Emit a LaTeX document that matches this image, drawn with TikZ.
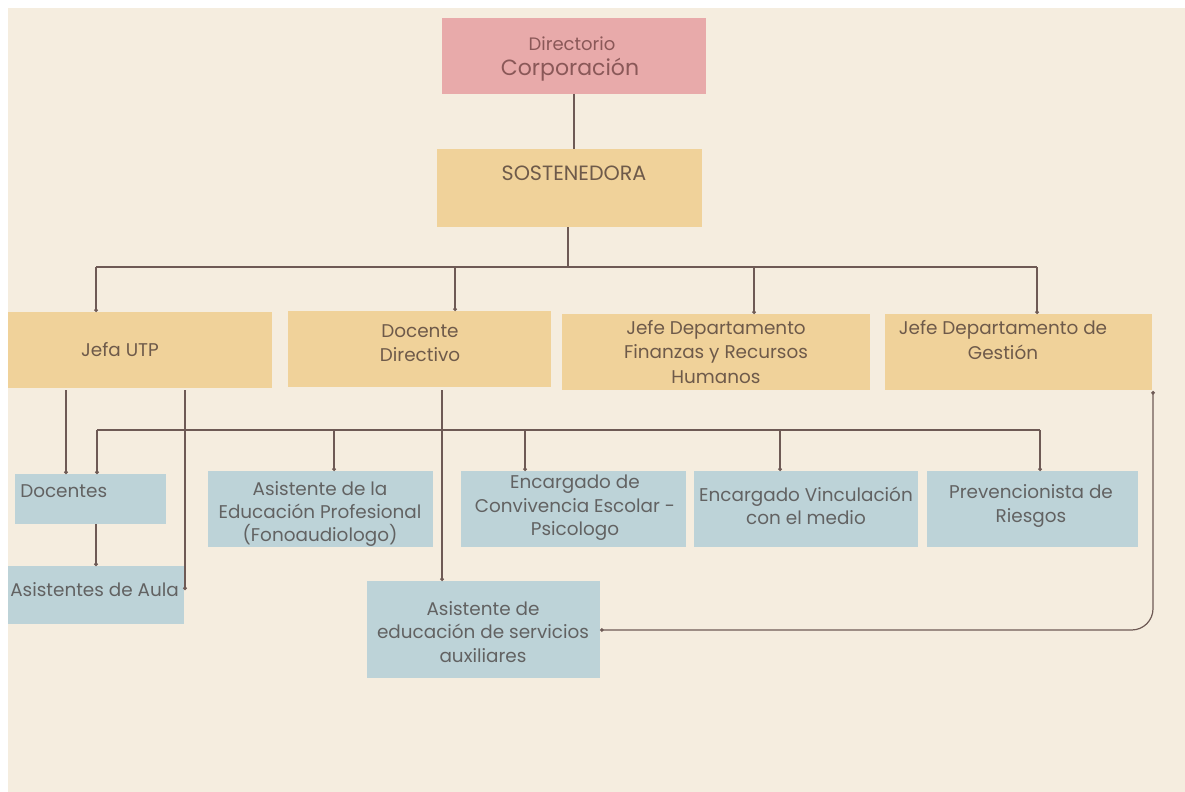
\documentclass[tikz,border=0pt]{standalone}
\usepackage{fontspec}
\setmainfont{Poppins}
\usetikzlibrary{arrows.meta}
\definecolor{bgc}{HTML}{F5EDDF}
\definecolor{pinkc}{HTML}{E8AAAA}
\definecolor{yelc}{HTML}{F0D29A}
\definecolor{bluec}{HTML}{BDD3D8}
\definecolor{linec}{HTML}{6E5A55}
\definecolor{ytext}{HTML}{6E5A4A}
\definecolor{btext}{HTML}{626262}
\definecolor{ptext}{HTML}{8A5858}
\newcommand\bx[6]{\node[#2, minimum width={(#5-#3)*0.75pt}, minimum height={(#6-#4)*0.75pt}] (#1) at ({(#3+#5)/2},{(#4+#6)/2}) {};}
\tikzset{
  boxbase/.style={inner sep=0pt, outer sep=0pt, draw=none},
  pinkbox/.style={boxbase, fill=pinkc},
  yelbox/.style={boxbase, fill=yelc},
  bluebox/.style={boxbase, fill=bluec},
  ytxt/.style={text=ytext, font=\fontsize{13.8}{18.4}\selectfont, align=center, inner sep=0pt},
  btxt/.style={text=btext, font=\fontsize{13.8}{17.6}\selectfont, align=center, inner sep=0pt},
  conn/.style={draw=linec, line width=0.9pt},
  dotend/.style={conn, -{Circle[length=2.8pt]}},
}
\begin{document}
\begin{tikzpicture}[x=0.75pt, y=-0.75pt]
\useasboundingbox (0,0) rectangle (1185,792);
\fill[white] (0,0) rectangle (1185,792);
\fill[bgc] (8,8) rectangle (1185,792);

% boxes
\bx{dir}{pinkbox}{442}{18}{706}{94}
\bx{sos}{yelbox}{437}{149}{702}{227}
\bx{jefa}{yelbox}{8}{312}{272}{388}
\bx{docd}{yelbox}{288}{311}{551}{387}
\bx{fin}{yelbox}{562}{314}{870}{390}
\bx{ges}{yelbox}{885}{314}{1152}{390}
\bx{doc}{bluebox}{15}{474}{166}{524}
\bx{aula}{bluebox}{8}{566}{184}{624}
\bx{aep}{bluebox}{208}{471}{433}{547}
\bx{conv}{bluebox}{461}{471}{686}{547}
\bx{vinc}{bluebox}{694}{471}{918}{547}
\bx{prev}{bluebox}{927}{471}{1138}{547}
\bx{serv}{bluebox}{367}{581}{600}{678}

% texts
\node[text=ptext, font=\fontsize{13.5}{15}\selectfont, inner sep=0pt] (dirT1) at (572,44) {Directorio};
\node[text=ptext, font=\fontsize{16.5}{18}\selectfont, inner sep=0pt] (dirT2) at (570,70) {Corporación};
\node[ytxt, font=\fontsize{15.5}{18}\selectfont] (sosT) at (574,173) {SOSTENEDORA};
\node[ytxt] (jefaT) at (120,350) {Jefa UTP};
\node[ytxt] (docdT) at (420,343) {Docente\\Directivo};
\node[ytxt] (finT) at (716,352) {Jefe Departamento\\Finanzas y Recursos\\Humanos};
\node[ytxt] (gesT) at (1003,340) {Jefe Departamento de\\Gestión};
\node[btxt, anchor=west] (docT) at (20,491) {Docentes};
\node[btxt, anchor=west] (aulaT) at (10,590) {Asistentes de Aula};
\node[btxt] (aepT) at (320,514) {Asistente de la\\Educación Profesional\\(Fonoaudiologo)};
\node[btxt] (convT) at (575,508) {Encargado de\\Convivencia Escolar -\\Psicologo};
\node[btxt] (vincT) at (806,506) {Encargado Vinculación\\con el medio};
\node[btxt] (prevT) at (1031,506) {Prevencionista de\\Riesgos};
\node[btxt] (servT) at (483,632) {Asistente de\\educación de servicios\\auxiliares};

% top links
\draw[conn] (dir.south) -- (dir.south |- sos.north);
\coordinate (b1) at (568,267);
\coordinate (b1L) at (96,267);
\coordinate (b1R) at (1037,267);
\coordinate (b1D) at (455,267);
\coordinate (b1F) at (754,267);
\draw[conn] (sos.south -| b1) -- (b1);
\draw[conn] (b1L) -- (b1R);
\draw[dotend] (b1L) -- (b1L |- jefa.north);
\draw[dotend] (b1D) -- (b1D |- docd.north);
\draw[dotend] (b1F) -- (b1F |- fin.north);
\draw[dotend] (b1R) -- (b1R |- ges.north);

% Jefa UTP links
\coordinate (j1) at (66,390);
\coordinate (j2) at (185,390);
\draw[dotend] (j1) -- (j1 |- doc.north);
\draw[dotend] (j2) -- (185,590);
\coordinate (d1) at (96,524);
\draw[dotend] (d1) -- (d1 |- aula.north);

% second bus
\coordinate (b2L) at (97,430);
\coordinate (b2R) at (1040,430);
\coordinate (b2A) at (334,430);
\coordinate (b2C) at (525,430);
\coordinate (b2V) at (780,430);
\draw[conn] (b2L) -- (b2R);
\draw[dotend] (b2L) -- (b2L |- doc.north);
\draw[dotend] (b2A) -- (b2A |- aep.north);
\draw[dotend] (b2C) -- (b2C |- conv.north);
\draw[dotend] (b2V) -- (b2V |- vinc.north);
\draw[dotend] (b2R) -- (b2R |- prev.north);

% Docente Directivo link
\coordinate (dd) at (442,390);
\draw[dotend] (dd) -- (dd |- serv.north);

% return link
\coordinate (r1) at (600,630);
\coordinate (r2) at (1153,630);
\coordinate (r3) at (1153,391);
\draw[conn, {Circle[length=2.8pt]}-{Circle[length=2.8pt]}, rounded corners=16pt] (r1) -- (r2) -- (r3);
\end{tikzpicture}
\end{document}
